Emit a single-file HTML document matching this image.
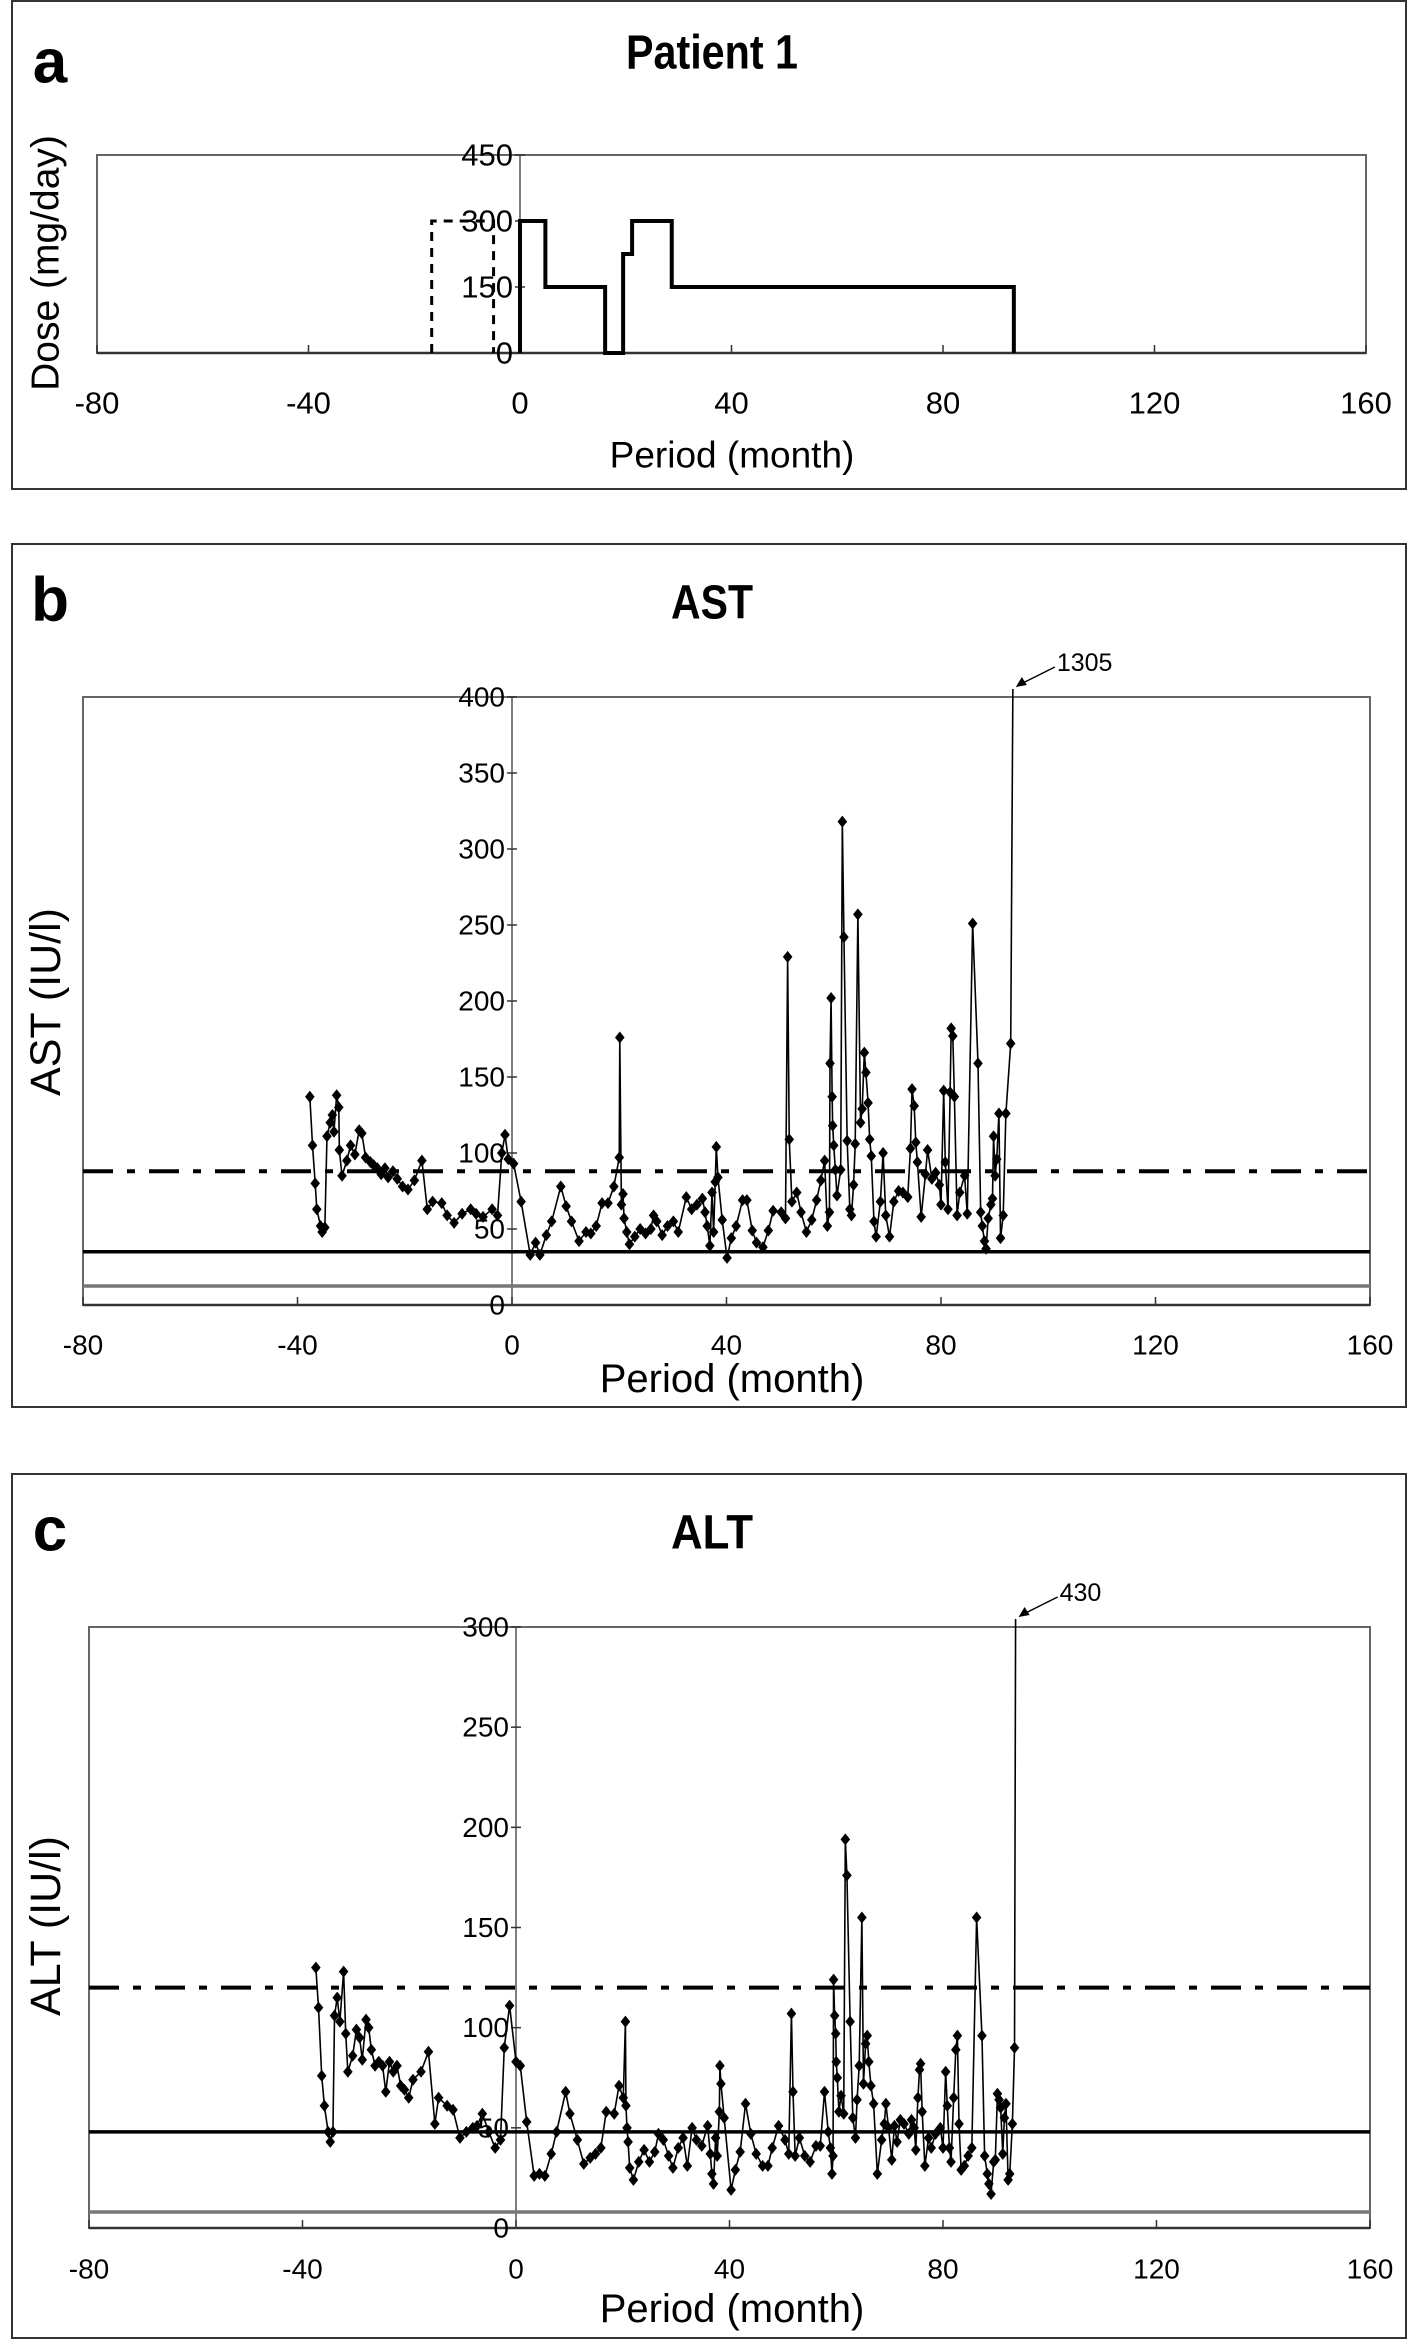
<!DOCTYPE html>
<html><head><meta charset="utf-8"><style>
html,body{margin:0;padding:0;background:#fff;}
svg{display:block;font-family:"Liberation Sans",sans-serif;}
</style></head><body>
<svg id="chart" width="1417" height="2340" viewBox="0 0 1417 2340" xmlns="http://www.w3.org/2000/svg">
<rect x="0" y="0" width="1417" height="2340" fill="#fff"/>
<rect x="12" y="1" width="1394" height="488" fill="none" stroke="#333" stroke-width="2"/>
<rect x="12" y="544" width="1394" height="863" fill="none" stroke="#333" stroke-width="2"/>
<rect x="12" y="1474" width="1394" height="864" fill="none" stroke="#333" stroke-width="2"/>
<g id="layer"></g>
</svg>
<script>
// ---- Panel a: dose data ----
const doseSolidX = [0, 0, 4.8, 4.8, 16.1, 16.1, 19.5, 19.5, 21.2, 21.2, 28.7, 28.7, 93.4, 93.4];
const doseSolidY = [0, 300, 300, 150, 150, 0, 0, 225, 225, 300, 300, 150, 150, 0];
const doseDashX = [-16.7, -16.7, -5, -5];
const doseDashY = [0, 300, 300, 0];
const xTicks = [-80, -40, 0, 40, 80, 120, 160];
const doseTicks = [0, 150, 300, 450];
// ---- Panel b: AST ----
const astX = [-37.7,-37.2,-36.7,-36.4,-35.7,-35.4,-34.9,-34.5,-33.9,-33.5,-33.2,-32.7,-32.3,-32.2,-31.7,-30.8,-30.1,-29.3,-28.5,-28,-27.3,-26.4,-25.8,-25.1,-24.4,-23.7,-23.1,-22.2,-21.4,-20.4,-19.4,-18.2,-16.8,-15.8,-14.8,-13.1,-12.1,-10.8,-9.3,-7.7,-6.7,-5.4,-3.7,-2.7,-1.9,-1.3,-0.7,0.3,1.7,3.4,4.4,5.2,6.4,7.4,9.1,10.1,11.1,12.5,13.8,14.7,15.7,16.8,17.9,19,20,20.1,20.4,20.7,20.9,21.4,21.9,22.9,23.9,24.9,25.9,26.4,27,28,29,30.1,31,32.5,33.5,34.5,35.5,36,36.4,36.9,37.3,37.6,37.9,38.1,38.4,39.2,40.1,40.9,41.8,43,43.8,44.8,45.6,46.8,47.8,48.7,50.2,51,51.4,51.7,52.2,53.1,53.9,54.9,55.9,56.8,57.6,58.3,58.8,59.2,59.3,59.5,59.7,59.8,60,60.3,60.6,61.3,61.6,61.9,62.5,63,63.3,63.7,64,64.5,65,65.3,65.7,66,66.4,66.7,67,67.5,67.9,68.7,69.2,69.7,70.4,71.2,72.1,72.9,73.8,74.3,74.6,75,75.3,75.6,76.3,77.1,77.5,78.3,79,79.7,80,80.5,80.8,81.3,81.7,81.9,82.2,82.5,83,83.5,84.4,84.9,85.9,86.9,87.4,87.7,88.1,88.4,88.8,89.3,89.6,89.8,90.1,90.4,90.8,91.1,91.6,92.1,93,93.4];
const astY = [137,105,80,63,52,48,51,111,120,125,114,138,130,102,85,95,105,99,115,113,97,94,92,90,86,90,84,88,83,78,76,82,95,63,68,67,59,54,60,63,60,58,63,59,100,112,96,93,68,33,41,33,46,55,78,65,55,42,48,47,52,67,67,78,97,176,66,73,57,48,40,45,50,47,50,59,55,46,52,55,48,71,63,66,70,61,52,39,74,48,81,104,84,56,31,44,52,69,69,49,41,38,49,62,61,57,229,109,68,74,61,48,56,69,82,95,52,61,159,202,137,118,105,89,72,89,318,242,108,63,59,79,106,257,120,129,166,153,133,109,98,55,45,68,100,59,45,68,75,74,71,103,142,131,107,94,58,86,102,83,87,79,66,141,94,63,140,182,177,137,59,74,85,60,251,159,61,52,42,37,57,66,70,111,85,96,126,44,59,126,172,1305];
const astTicks = [0, 50, 100, 150, 200, 250, 300, 350, 400];
const astRefLines = [88, 35, 12.5];
// ---- Panel c: ALT ----
const altX = [-37.5,-37,-36.4,-35.9,-35.2,-34.8,-34.3,-34,-33.5,-33,-32.3,-31.9,-31.5,-30.6,-29.9,-29.3,-28.8,-28.1,-27.6,-27.1,-26.4,-25.7,-25,-24.4,-23.7,-23,-22.3,-21.6,-20.9,-20.1,-19.3,-17.8,-16.4,-15.2,-14.5,-12.9,-11.8,-10.5,-9.3,-8.1,-7.3,-6.3,-5.1,-3.9,-2.9,-2.2,-1.2,0,0.8,2,3.4,4.4,5.4,6.6,7.6,9.3,10.1,11.5,12.7,13.9,14.9,15.9,16.9,18.4,19.3,20.1,20.5,20.6,20.8,21,21.3,22,23,24,25,26,26.7,27.6,28.6,29.4,30.4,31.3,32.1,33,33.8,34.8,35.9,36.4,36.7,37,37.4,37.7,38.1,38.2,38.4,39,40.3,41.1,42,43,44,45,46.2,47.2,48,49.2,50.4,51.1,51.6,51.9,52.3,53.1,54.1,55.1,56.2,57,57.8,58.5,58.9,59.2,59.4,59.5,59.7,59.9,60,60.2,60.5,60.9,61.4,61.7,62,62.6,63.1,63.6,63.9,64.3,64.8,65.1,65.5,65.8,66.1,66.5,67,67.7,68.5,69,69.3,69.8,70.4,70.9,71.4,72,72.7,73.6,74.1,74.6,74.9,75.3,75.6,75.8,76.1,76.6,77.3,77.8,78.6,79.5,80,80.5,80.8,81.2,81.5,82,82.4,82.7,83,83.4,84,84.7,85.4,86.3,87.3,87.8,88.3,88.6,89,89.5,89.8,90.2,90.5,90.8,91.2,91.5,91.8,92.2,92.5,93,93.4,93.6];
const altY = [130,110,76,61,48,43,48,106,115,103,128,97,78,86,99,95,84,104,100,89,81,83,81,68,83,78,81,71,69,65,74,78,88,52,65,61,59,45,48,50,51,57,48,40,44,90,111,83,81,53,26,27,26,37,48,68,57,44,32,35,37,40,58,57,71,65,103,61,50,43,30,24,33,39,33,38,47,44,36,30,40,45,31,50,44,41,51,37,27,22,45,36,58,81,72,55,19,29,38,62,47,37,31,31,40,51,44,37,107,68,36,45,36,33,41,41,68,48,40,27,36,124,106,97,83,75,58,66,57,194,176,103,55,45,64,81,155,72,92,96,83,71,62,27,44,52,62,50,34,51,43,54,52,47,54,50,39,65,79,82,58,31,45,40,47,50,40,78,61,40,33,65,89,96,52,29,31,36,40,155,96,36,27,22,17,33,34,67,64,60,37,55,62,24,27,52,90,430];
const altTicks = [0, 50, 100, 150, 200, 250, 300];
const altRefLines = [120, 48, 8];

const NS = "http://www.w3.org/2000/svg";
const layer = document.getElementById('layer');
function mk(tag, attrs, parent) {
  const e = document.createElementNS(NS, tag);
  for (const k in attrs) e.setAttribute(k, attrs[k]);
  (parent || layer).appendChild(e);
  return e;
}
function makeScales(L, R, T, B, ymax) {
  return {
    x: v => L + (v + 80) / 240 * (R - L),
    y: v => B - v / ymax * (B - T)
  };
}
function frame(p, s, yTicks, tickFont, xLabY, labelFS, yTitleY, yTitle, yTitleFS, name) {
  const g = mk('g', {});
  
  
  const r = mk('rect', {x: p.L, y: p.T, width: p.R - p.L, height: p.B - p.T, fill: 'none', stroke: '#666', 'stroke-width': 2}, g);
  
  
  const x0 = s.x(0);
  const ya = mk('line', {x1: x0, y1: p.T, x2: x0, y2: p.B, stroke: '#555', 'stroke-width': 1.5}, g);
  
  
  const xa = mk('line', {x1: p.L, y1: p.B, x2: p.R, y2: p.B, stroke: '#333', 'stroke-width': 2.5}, g);
  
  
  xTicks.forEach(v => {
    mk('line', {x1: s.x(v), y1: p.B, x2: s.x(v), y2: p.B - 8, stroke: '#333', 'stroke-width': 1.5}, g);
    const t = mk('text', {x: s.x(v), y: xLabY, 'font-size': tickFont, 'text-anchor': 'middle', 'dominant-baseline': 'central'}, g);
    t.textContent = v;
    
    
  });
  yTicks.forEach(v => {
    mk('line', {x1: x0 - 5, y1: s.y(v), x2: x0 + 5, y2: s.y(v), stroke: '#333', 'stroke-width': 1.5}, g);
    const t = mk('text', {x: x0 - 7, y: s.y(v), 'font-size': tickFont, 'text-anchor': 'end', 'dominant-baseline': 'central'}, g);
    t.textContent = v;
    
    
  });
  const xt = mk('text', {x: 732, y: xLabY + labelFS.dy, 'font-size': labelFS.fs, 'text-anchor': 'middle', 'dominant-baseline': 'central'}, g);
  xt.textContent = 'Period (month)';
  
  
  const yt = mk('text', {x: 0, y: 0, 'font-size': yTitleFS, 'text-anchor': 'middle', 'dominant-baseline': 'central', transform: 'translate(46,' + yTitleY + ') rotate(-90)'}, g);
  yt.textContent = yTitle;
  
  
}
function heading(letter, title, y, letterY, titleW) {
  const a = mk('text', {x: 50, y: letterY, 'font-size': 62, 'font-weight': 'bold', 'text-anchor': 'middle', 'dominant-baseline': 'central'});
  a.textContent = letter;
  
  
  const t = mk('text', {x: 712, y: y, 'font-size': 48, 'font-weight': 'bold', 'text-anchor': 'middle', 'dominant-baseline': 'central', textLength: titleW, lengthAdjust: 'spacingAndGlyphs'});
  t.textContent = title;
  
  
}
function refLines(p, s, vals, name) {
  const styles = [
    {stroke: '#000', 'stroke-width': 4, 'stroke-dasharray': '30,14,8,14'},
    {stroke: '#000', 'stroke-width': 3.5},
    {stroke: '#777', 'stroke-width': 3.5}
  ];
  const names = ['upper-reference-line', 'normal-limit-line', 'lower-reference-line'];
  vals.forEach((v, i) => {
    const l = mk('line', Object.assign({x1: p.L, x2: p.R, y1: s.y(v), y2: s.y(v)}, styles[i]));
    
    
  });
}
function series(p, s, xs, ys, name, clipTop) {
  const pts = xs.map((x, i) => [s.x(x), Math.max(clipTop, s.y(ys[i]))]);
  const pl = mk('polyline', {points: pts.map(q => q.join(',')).join(' '), fill: 'none', stroke: '#000', 'stroke-width': 1.6});
  
  
  pts.forEach((q, i) => {
    if (q[1] <= clipTop + 0.01) return;
    const d = 6;
    const m = mk('polygon', {points: [q[0], q[1] - d, q[0] + d * 0.8, q[1], q[0], q[1] + d, q[0] - d * 0.8, q[1]].join(','), fill: '#000'});
    
    
  });
}
function annot(x, yTop, label) {
  const a = mk('line', {x1: x + 42, y1: yTop - 24, x2: x + 6, y2: yTop - 6, stroke: '#000', 'stroke-width': 1.5});
  
  
  const h = mk('polygon', {points: [x + 3, yTop - 4, x + 14, yTop - 6, x + 9, yTop - 14].join(','), fill: '#000'});
  
  
  const t = mk('text', {x: x + 44, y: yTop - 28, 'font-size': 25, 'dominant-baseline': 'central'});
  t.textContent = label;
  
  
}

// Panel a
(function () {
  const p = {L: 97, R: 1366, T: 155, B: 353};
  const s = makeScales(p.L, p.R, p.T, p.B, 450);
  heading('a', 'Patient 1', 53, 62, 172);
  frame(p, s, doseTicks, 31, 403, {fs: 37, dy: 52}, 263, 'Dose (mg/day)', 39, 'dose');
  const d = mk('polyline', {points: doseDashX.map((x, i) => s.x(x) + ',' + s.y(doseDashY[i])).join(' '), fill: 'none', stroke: '#000', 'stroke-width': 3, 'stroke-dasharray': '9,7'});
  
  
  const l = mk('polyline', {points: doseSolidX.map((x, i) => s.x(x) + ',' + s.y(doseSolidY[i])).join(' '), fill: 'none', stroke: '#000', 'stroke-width': 4});
  
  
})();
// Panel b
(function () {
  const p = {L: 83, R: 1370, T: 697, B: 1305};
  const s = makeScales(p.L, p.R, p.T, p.B, 400);
  heading('b', 'AST', 603, 600, 82);
  frame(p, s, astTicks, 28, 1345, {fs: 40, dy: 34}, 1002, 'AST (IU/l)', 43, 'ast');
  refLines(p, s, astRefLines, 'ast');
  series(p, s, astX, astY, 'ast', p.T - 8);
  annot(s.x(astX[astX.length - 1]), p.T - 6, '1305');
})();
// Panel c
(function () {
  const p = {L: 89, R: 1370, T: 1627, B: 2228};
  const s = makeScales(p.L, p.R, p.T, p.B, 300);
  heading('c', 'ALT', 1533, 1530, 82);
  frame(p, s, altTicks, 28, 2269, {fs: 40, dy: 40}, 1926, 'ALT (IU/l)', 43, 'alt');
  refLines(p, s, altRefLines, 'alt');
  series(p, s, altX, altY, 'alt', p.T - 8);
  annot(s.x(altX[altX.length - 1]), p.T - 6, '430');
})();
</script>
</body></html>
